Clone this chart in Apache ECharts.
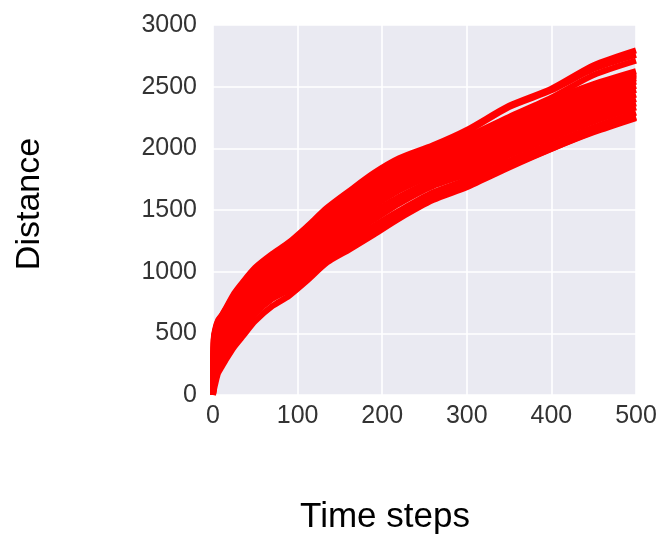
<!DOCTYPE html>
<html>
<head>
<meta charset="utf-8">
<script src="https://cdn.jsdelivr.net/npm/echarts@6/dist/echarts.min.js"></script>
<style>
  html, body { margin: 0; padding: 0; background: #ffffff; }
  #chart { width: 664px; height: 540px; }
</style>
</head>
<body>
<div id="chart"></div>
<script>
// Sample times shared by every walk
const timeSteps = [0, 1, 3, 6, 10, 16, 25, 35, 50, 70, 90, 110, 135, 160, 190, 220, 260, 300, 350, 400, 450, 500];

// Distance travelled by each walker at the sample times
const walk01 = [0, 40, 100, 176, 225, 295, 390, 475, 600, 720, 805, 920, 1075, 1175, 1300, 1430, 1580, 1685, 1845, 1995, 2130, 2245];
const walk02 = [0, 80, 142, 209, 257, 336, 439, 525, 661, 780, 854, 961, 1108, 1202, 1323, 1457, 1613, 1705, 1856, 1997, 2136, 2255];
const walk03 = [0, 120, 176, 241, 290, 364, 464, 558, 689, 800, 887, 994, 1146, 1246, 1370, 1493, 1642, 1746, 1898, 2039, 2170, 2289];
const walk04 = [0, 160, 218, 282, 322, 392, 493, 583, 709, 832, 920, 1031, 1183, 1286, 1421, 1552, 1695, 1791, 1944, 2085, 2217, 2331];
const walk05 = [0, 192, 251, 315, 359, 425, 517, 600, 730, 856, 953, 1064, 1212, 1317, 1444, 1579, 1724, 1832, 1986, 2123, 2255, 2364];
const walk06 = [0, 220, 285, 348, 391, 465, 566, 649, 762, 876, 969, 1092, 1253, 1362, 1486, 1606, 1744, 1852, 2020, 2161, 2289, 2398];
const walk07 = [0, 240, 310, 376, 423, 489, 587, 678, 803, 924, 1010, 1121, 1274, 1393, 1533, 1660, 1785, 1881, 2045, 2194, 2328, 2436];
const walk08 = [0, 260, 335, 409, 460, 530, 624, 707, 831, 952, 1047, 1158, 1312, 1424, 1565, 1691, 1822, 1918, 2074, 2219, 2362, 2474];
const walk09 = [0, 288, 365, 438, 488, 558, 652, 745, 867, 980, 1067, 1187, 1349, 1464, 1598, 1723, 1851, 1947, 2104, 2253, 2396, 2507];
const walk10 = [0, 320, 398, 470, 517, 583, 685, 778, 892, 1004, 1100, 1219, 1374, 1491, 1635, 1759, 1875, 1971, 2137, 2287, 2430, 2541];
const walk11 = [0, 352, 432, 503, 549, 615, 718, 807, 928, 1040, 1129, 1248, 1411, 1531, 1667, 1790, 1912, 2008, 2167, 2316, 2459, 2568];
const walk12 = [0, 384, 465, 536, 581, 647, 747, 840, 956, 1068, 1166, 1281, 1444, 1567, 1705, 1826, 1945, 2041, 2200, 2345, 2485, 2590];
const walk13 = [0, 416, 495, 560, 606, 676, 775, 865, 981, 1096, 1190, 1305, 1465, 1593, 1737, 1853, 1965, 2065, 2222, 2368, 2505, 2605];
const walk14 = [0, 440, 520, 585, 630, 700, 800, 890, 1005, 1120, 1215, 1330, 1490, 1620, 1765, 1880, 1990, 2085, 2240, 2390, 2520, 2625];
const walk15 = [0, 448, 526, 592, 634, 703, 806, 898, 1014, 1128, 1222, 1340, 1500, 1632, 1778, 1895, 1998, 2095, 2255, 2410, 2595, 2712];
const walk16 = [0, 455, 532, 598, 638, 706, 812, 905, 1022, 1135, 1230, 1348, 1508, 1640, 1788, 1905, 2012, 2135, 2335, 2470, 2645, 2758];
const walk17 = [0, 464, 544, 606, 644, 714, 824, 914, 1034, 1144, 1239, 1359, 1519, 1649, 1799, 1919, 2024, 2149, 2345, 2484, 2674, 2795];

const walks = [walk01, walk02, walk03, walk04, walk05, walk06, walk07, walk08, walk09,
               walk10, walk11, walk12, walk13, walk14, walk15, walk16, walk17];

// Axis ticks
const xTicks = [0, 100, 200, 300, 400, 500];
const yTicks = [0, 500, 1000, 1500, 2000, 2500, 3000];

const FONT = "'Liberation Sans', Arial, sans-serif";

const chart = echarts.init(document.getElementById('chart'), null, { renderer: 'canvas' });

chart.setOption({
  animation: false,
  backgroundColor: '#ffffff',
  grid: {
    left: 213, right: 28, top: 25, bottom: 145,
    show: true, backgroundColor: '#eaeaf2', borderWidth: 0
  },
  xAxis: {
    type: 'value',
    min: xTicks[0], max: xTicks[xTicks.length - 1], interval: 100,
    axisLine: { show: false }, axisTick: { show: false },
    splitLine: { show: true, lineStyle: { color: '#ffffff', width: 1.6 } },
    axisLabel: { color: '#333333', fontSize: 25, fontFamily: FONT, margin: 9,
                 formatter: v => String(v) }
  },
  yAxis: {
    type: 'value',
    min: yTicks[0], max: yTicks[yTicks.length - 1], interval: 500,
    axisLine: { show: false }, axisTick: { show: false },
    splitLine: { show: true, lineStyle: { color: '#ffffff', width: 1.6 } },
    axisLabel: { color: '#333333', fontSize: 25, fontFamily: FONT, margin: 16,
                 formatter: v => String(v) }
  },
  series: walks.map((w, k) => ({
    name: 'walk ' + (k + 1),
    type: 'line',
    data: timeSteps.map((t, i) => [t, w[i]]),
    showSymbol: false,
    smooth: 0.25,
    silent: true,
    lineStyle: { color: '#ff0000', width: 6 },
    z: 2
  })),
  graphic: [
    {
      type: 'text', x: 30, y: 204, rotation: Math.PI / 2,
      style: { text: 'Distance', fontSize: 34, fontFamily: FONT, fill: '#000000',
               textAlign: 'center', textVerticalAlign: 'middle' }
    },
    {
      type: 'text', x: 385, y: 517,
      style: { text: 'Time steps', fontSize: 35, fontFamily: FONT, fill: '#000000',
               textAlign: 'center', textVerticalAlign: 'middle' }
    }
  ]
});
</script>
</body>
</html>
